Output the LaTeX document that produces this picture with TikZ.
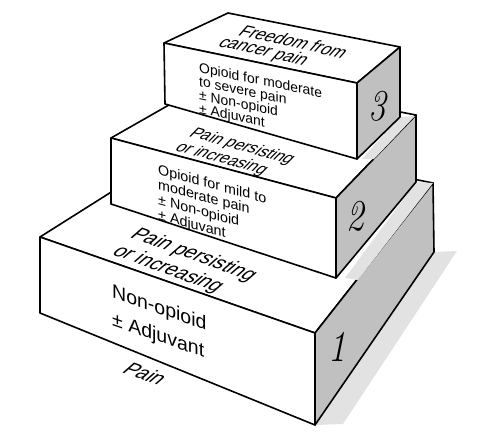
\documentclass[tikz,border=0pt]{standalone}
\usepackage{fontspec}
\newfontfamily\arial{Liberation Sans}
\definecolor{sidegray}{RGB}{192,192,192}
\definecolor{shadowgray}{RGB}{226,226,226}
\begin{document}
\begin{tikzpicture}[x=1pt,y=-1pt,line join=round]
\tikzset{
  frontface/.style={fill=white,draw=black,line width=1.6pt},
  sideface/.style={fill=sidegray,draw=black,line width=1.6pt},
  shadowarea/.style={fill=shadowgray},
  fronttext/.style={anchor=north west,inner sep=0pt,align=left},
  toptext/.style={anchor=base west,inner sep=0pt},
  numtext/.style={inner sep=0pt,font=\fontsize{44}{44}\selectfont\itshape},
}
\useasboundingbox (0,0) rectangle (489,433);
% shadows on the ground
\fill[shadowarea] (315,425) -- (434,252) -- (457,251) -- (343,424) -- cycle;
% box 1
\draw[frontface] (40,237) -- (200,136) -- (433,183) -- (315,333) -- cycle;
\draw[frontface] (40,237) -- (315,333) -- (315,425) -- (40,313) -- cycle;
\draw[sideface] (315,333) -- (433,183) -- (434,252) -- (315,425) -- cycle;
% shadow of box 2 on box 1
\fill[shadowarea] (345,278) -- (416,182) -- (433,183) -- (358,280) -- cycle;
% box 2
\draw[frontface] (111,138) -- (218,77) -- (416,115) -- (336,198) -- cycle;
\draw[frontface] (111,138) -- (336,198) -- (336,278) -- (111,204) -- cycle;
\draw[sideface] (336,198) -- (416,115) -- (416,182) -- (336,278) -- cycle;
% shadow of box 3 on box 2
\fill[shadowarea] (362,159) -- (400,117) -- (415,116) -- (374,159) -- cycle;
% box 3
\draw[frontface] (164,43) -- (228,13) -- (400,47) -- (357,83) -- cycle;
\draw[frontface] (164,43) -- (357,83) -- (357,159) -- (165,104) -- cycle;
\draw[sideface] (357,83) -- (400,47) -- (400,117) -- (357,159) -- cycle;
% front texts
\node[fronttext,cm={1,-0.207,0,1,(0,0)},font=\arial\fontsize{13.9}{13.7}\selectfont] (t3) at (199,62)
  {Opioid for moderate\\to severe pain\\± Non-opioid\\± Adjuvant};
\node[fronttext,cm={1,-0.265,0,1,(0,0)},font=\arial\fontsize{14.3}{15}\selectfont] (t2) at (158,164)
  {Opioid for mild to\\moderate pain\\± Non-opioid\\± Adjuvant};
\node[fronttext,cm={1,-0.349,0,1,(0,0)},font=\arial\fontsize{19.5}{28}\selectfont] (t1) at (112,283)
  {Non-opioid\\± Adjuvant};
% top texts
\node[toptext,rotate=-12.5,xslant=0.55,font=\arial\fontsize{17}{16}\selectfont] (f3a) at (237,35) {Freedom from};
\node[toptext,rotate=-12.5,xslant=0.55,font=\arial\fontsize{17}{16}\selectfont] (f3b) at (217,46) {cancer pain};
\node[toptext,rotate=-15.5,xslant=0.55,font=\arial\fontsize{16}{16}\selectfont] (f2a) at (188,136) {Pain persisting};
\node[toptext,rotate=-15.5,xslant=0.55,font=\arial\fontsize{16}{16}\selectfont] (f2b) at (174,150) {or increasing};
\node[toptext,rotate=-20,xslant=0.55,font=\arial\fontsize{19.5}{19}\selectfont] (f1a) at (129,237) {Pain persisting};
\node[toptext,rotate=-20,xslant=0.55,font=\arial\fontsize{19.5}{19}\selectfont] (f1b) at (111,254) {or increasing};
\node[toptext,rotate=-20,xslant=0.55,font=\arial\fontsize{19.5}{19}\selectfont] (p0) at (121,372) {Pain};
% step numbers
\node[numtext,xscale=0.8] (n3) at (377,106) {3};
\node[numtext,xscale=0.8] (n2) at (355,216) {2};
\node[numtext,xscale=0.8] (n1) at (337,347) {1};
\end{tikzpicture}
\end{document}
